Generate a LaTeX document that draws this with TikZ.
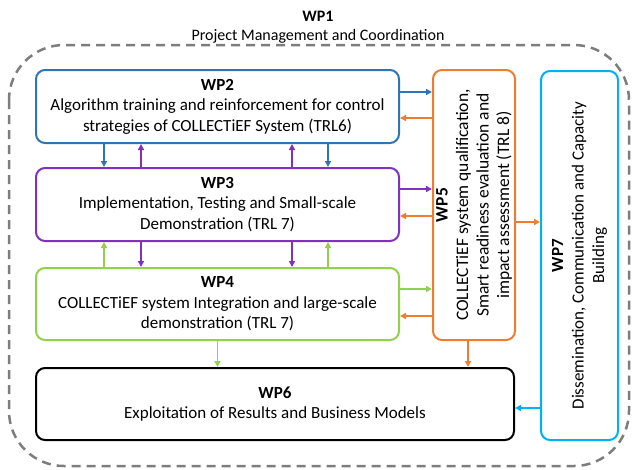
\documentclass[tikz,border=0pt]{standalone}
\usepackage{fontspec}
\setmainfont{Carlito}
\usepackage{tikz}
\usetikzlibrary{arrows.meta, positioning}

\definecolor{wpblue}{RGB}{46,117,182}
\definecolor{wppurple}{RGB}{128,50,190}
\definecolor{wpgreen}{RGB}{146,208,80}
\definecolor{wporange}{RGB}{237,125,49}
\definecolor{wpcyan}{RGB}{0,176,240}
\definecolor{wpgray}{RGB}{125,125,125}

\newcommand{\wpfont}{\fontsize{17}{20.5}\selectfont}

\tikzset{
  wpbox/.style={draw, rounded corners=9pt, line width=2pt, align=center, font=\wpfont},
  wptext/.style={align=center, font=\wpfont},
  arr/.style={-{Triangle[length=6pt,width=6pt]}, line width=1.5pt},
}

\begin{document}
\begin{tikzpicture}[x=1pt, y=-1pt]
    \useasboundingbox (0,0) rectangle (637,469);

    % -------------------------------------------------------
    % 1. WP1 frame
    % -------------------------------------------------------
    \draw[wpgray, line width=2.5pt, dash pattern=on 9pt off 6pt, rounded corners=55pt]
      (9,45) rectangle (629,466);
    \node[wptext, font=\fontsize{16}{19}\selectfont] (wp1) at (318,27.5)
      {\textbf{WP1}\\Project Management and Coordination};

    % -------------------------------------------------------
    % 2. Work package boxes
    % -------------------------------------------------------
    \node[wpbox, draw=wpblue, minimum width=363pt, minimum height=73pt] (wp2) at (217.5,106.5)
      {\textbf{WP2}\\Algorithm training and reinforcement for control\\strategies of COLLECTiEF System (TRL6)};
    \node[wpbox, draw=wppurple, minimum width=363pt, minimum height=73pt] (wp3) at (217.5,204.5)
      {\textbf{WP3}\\Implementation, Testing and Small-scale\\Demonstration (TRL 7)};
    \node[wpbox, draw=wpgreen, minimum width=363pt, minimum height=72pt] (wp4) at (217.5,304)
      {\textbf{WP4}\\COLLECTiEF system Integration and large-scale\\demonstration (TRL 7)};
    \node[wpbox, draw=black, minimum width=478pt, minimum height=72pt] (wp6) at (275,404)
      {\textbf{WP6}\\Exploitation of Results and Business Models};

    % vertical boxes, text turned
    \node[wpbox, draw=wporange, minimum width=82pt, minimum height=270pt] (wp5) at (474,205) {};
    \node[wptext, rotate=90, font=\fontsize{17.5}{20.5}\selectfont] (wp5txt) at (wp5)
      {\textbf{WP5}\\COLLECTiEF system qualification,\\Smart readiness evaluation and\\impact assessment (TRL 8)};
    \node[wpbox, draw=wpcyan, minimum width=77pt, minimum height=369pt] (wp7) at (579.5,255.5) {};
    \node[wptext, rotate=90] (wp7txt) at (wp7)
      {\textbf{WP7}\\Dissemination, Communication and Capacity\\Building};

    % -------------------------------------------------------
    % 3. Vertical links between WP2, WP3, WP4
    % -------------------------------------------------------
    \foreach \x in {104,328} {
      \coordinate (col) at (\x,0);
      \draw[arr, wpblue] (wp2.south -| col) -- (wp3.north -| col);
      \draw[arr, wpgreen] (wp4.north -| col) -- (wp3.south -| col);
    }
    \foreach \x in {141,292} {
      \coordinate (col) at (\x,0);
      \draw[arr, wppurple] (wp3.north -| col) -- (wp2.south -| col);
      \draw[arr, wppurple] (wp3.south -| col) -- (wp4.north -| col);
    }

    % -------------------------------------------------------
    % 4. Links to and from WP5
    % -------------------------------------------------------
    \foreach \wp/\col/\ya/\yb in {wp2/wpblue/92/118, wp3/wppurple/189/216, wp4/wpgreen/289/316} {
      \coordinate (rowa) at (0,\ya);
      \coordinate (rowb) at (0,\yb);
      \draw[arr, \col] (\wp.east |- rowa) -- (wp5.west |- rowa);
      \draw[arr, wporange] (wp5.west |- rowb) -- (\wp.east |- rowb);
    }
    \coordinate (row7) at (0,222);
    \draw[arr, wporange] (wp5.east |- row7) -- (wp7.west |- row7);

    % -------------------------------------------------------
    % 5. Links into WP6
    % -------------------------------------------------------
    \draw[arr, wpgreen] (wp4.south) -- (wp6.north -| wp4.south);
    \coordinate (col5) at (468,0);
    \draw[arr, wporange] (wp5.south -| col5) -- (wp6.north -| col5);
    \coordinate (row6) at (0,408);
    \draw[arr, wpcyan] (wp7.west |- row6) -- (wp6.east |- row6);
\end{tikzpicture}
\end{document}
